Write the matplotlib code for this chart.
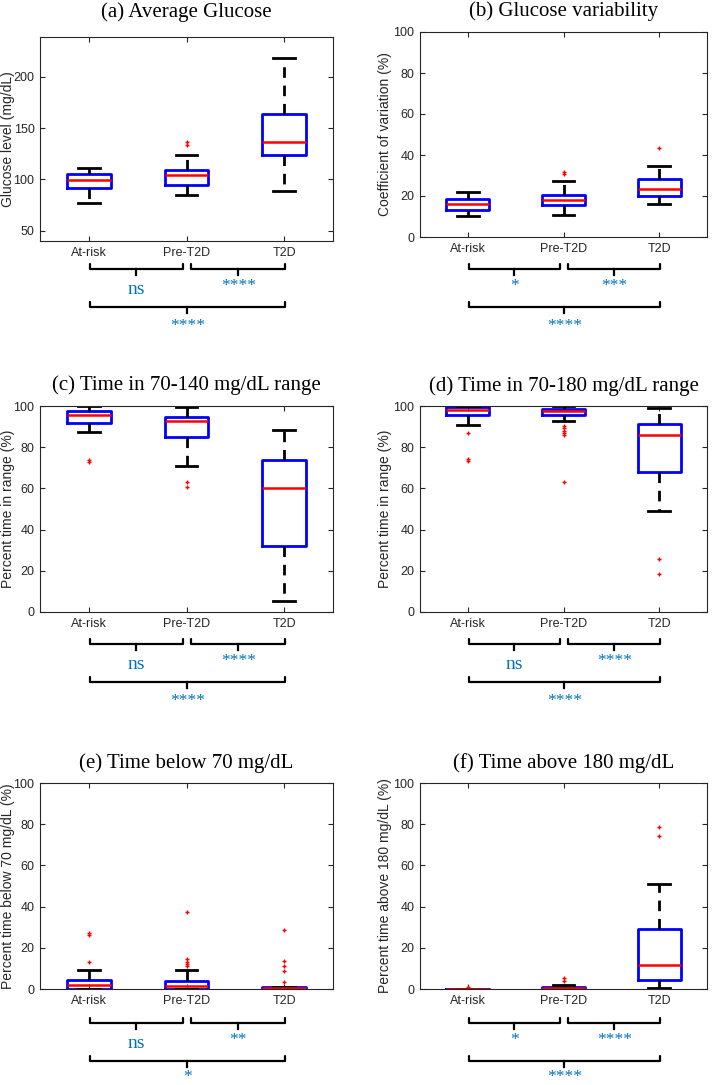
import matplotlib
matplotlib.use('Agg')
import matplotlib.pyplot as plt
import matplotlib.transforms as mtransforms

plt.rcParams['font.family'] = ['Liberation Sans', 'DejaVu Sans']

groups = ['At-risk', 'Pre-T2D', 'T2D']

# five number summaries per group: whisker low, q1, median, q3, whisker high
avg_glucose = [[77.2, 91.8, 99.6, 105.7, 111.2],
               [84.7, 95.0, 104.8, 109.3, 123.9],
               [88.6, 123.5, 136.5, 163.4, 218.2]]
avg_glucose_out = [[], [133.3, 136.5], []]

glucose_cv = [[10.1, 13.2, 16.3, 18.5, 22.0],
              [10.6, 15.8, 17.9, 20.5, 27.5],
              [16.3, 20.2, 23.4, 28.1, 34.6]]
glucose_cv_out = [[], [30.9, 31.8], [43.6]]

tir_140 = [[87.2, 91.9, 95.6, 97.4, 100.0],
           [70.9, 84.8, 92.6, 94.5, 99.4],
           [5.3, 32.2, 60.0, 73.6, 88.5]]
tir_140_out = [[73.0, 73.9], [60.5, 63.3], []]

tir_180 = [[91.0, 95.5, 98.1, 99.7, 100.0],
           [92.6, 95.6, 97.6, 98.7, 100.0],
           [49.0, 68.0, 85.7, 91.5, 99.0]]
tir_180_out = [[73.1, 74.1, 87.0],
               [63.3, 85.8, 86.9, 88.0, 89.2, 90.3],
               [18.3, 25.9]]

tbr_70 = [[0.0, 0.0, 2.1, 4.4, 9.0],
          [0.0, 0.0, 1.6, 4.1, 9.3],
          [0.0, 0.0, 0.4, 1.1, 1.1]]
tbr_70_out = [[13.1, 26.4, 27.4],
              [11.0, 12.1, 13.3, 14.4, 37.2],
              [3.3, 8.7, 11.0, 13.4, 28.7]]

tar_180 = [[0.0, 0.0, 0.0, 0.0, 0.0],
           [0.0, 0.0, 0.3, 0.8, 1.8],
           [0.5, 4.4, 11.8, 29.0, 51.1]]
tar_180_out = [[1.0], [3.7, 5.2], [74.1, 78.8]]

# significance: (1 vs 2, 2 vs 3, 1 vs 3)
sig_a = ['ns', '****', '****']
sig_b = ['*', '***', '****']
sig_c = ['ns', '****', '****']
sig_d = ['ns', '****', '****']
sig_e = ['ns', '**', '*']
sig_f = ['*', '****', '****']

W, H = 714, 1085
BLUE_TXT = '#0072BD'
GREY = '#262626'

fig = plt.figure(figsize=(W / 100, H / 100), dpi=100)


def make_axes(left, top, right, bottom):
    return fig.add_axes([left / W, 1 - bottom / H, (right - left) / W, (bottom - top) / H])


def draw_box(ax, summary, outliers):
    stats = []
    for s, o, name in zip(summary, outliers, groups):
        stats.append(dict(whislo=s[0], q1=s[1], med=s[2], q3=s[3], whishi=s[4],
                          fliers=o, label=name))
    ax.bxp(stats, positions=[1, 2, 3], widths=0.45, showfliers=True,
           boxprops=dict(color='#0000FF', linewidth=2.0),
           medianprops=dict(color='#FF0000', linewidth=1.8),
           whiskerprops=dict(color='black', linewidth=2.0, linestyle=(0, (3.8, 2.8))),
           capprops=dict(color='black', linewidth=2.0),
           flierprops=dict(marker='+', markersize=2.2, markeredgewidth=1.0,
                           markeredgecolor='#FF0000', linestyle='none'))
    ax.set_xlim(0.5, 3.5)
    ax.set_xticks([1, 2, 3])
    ax.set_xticklabels(groups)
    ax.tick_params(direction='in', length=3.5, width=0.8, colors=GREY,
                   labelsize=9, top=True, right=True, pad=4)
    for sp in ax.spines.values():
        sp.set_color(GREY)
        sp.set_linewidth(0.8)


def bracket(ax, x0, x1, y_tip, y_line, y_tick):
    tr = mtransforms.blended_transform_factory(ax.transData, fig.transFigure)
    yt, yl, yk = 1 - y_tip / H, 1 - y_line / H, 1 - y_tick / H
    ax.plot([x0, x0, x1, x1], [yt, yl, yl, yt], color='black', lw=1.6,
            transform=tr, clip_on=False, solid_joinstyle='round',
            solid_capstyle='round')
    xm = (x0 + x1) / 2
    ax.plot([xm, xm], [yl, yk], color='black', lw=1.6, transform=tr, clip_on=False)


def sig_text(ax, x, y_center, label):
    tr = mtransforms.blended_transform_factory(ax.transData, fig.transFigure)
    size = 14 if label == 'ns' else 12.5
    ax.text(x, 1 - (y_center + 5) / H, label, transform=tr, ha='center',
            va='baseline', fontsize=size, color=BLUE_TXT, family='Liberation Serif')


def brackets(ax, labels, row_top, long_text_y):
    # row_top: pixel y of the tips of the short brackets
    y0 = row_top
    bracket(ax, 1.01, 1.96, y0, y0 + 5, y0 + 11)
    bracket(ax, 2.05, 3.01, y0, y0 + 5, y0 + 11)
    bracket(ax, 1.01, 3.01, y0 + 38, y0 + 43, y0 + 49)
    sig_text(ax, 1.485, y0 + 25 if labels[0] == 'ns' else y0 + 21, labels[0])
    sig_text(ax, 2.53, y0 + 25 if labels[1] == 'ns' else y0 + 21, labels[1])
    sig_text(ax, 2.01, long_text_y, labels[2])


panels = [
    ('(a) Average Glucose', 'Glucose level (mg/dL)', avg_glucose, avg_glucose_out,
     sig_a, (40, 37, 333, 241), 264, 325, 17),
    ('(b) Glucose variability', 'Coefficient of variation (%)', glucose_cv, glucose_cv_out,
     sig_b, (420, 32, 707, 237), 264, 325, 16),
    ('(c) Time in 70-140 mg/dL range', 'Percent time in range (%)', tir_140, tir_140_out,
     sig_c, (40, 406, 333, 612), 639, 700, 390),
    ('(d) Time in 70-180 mg/dL range', 'Percent time in range (%)', tir_180, tir_180_out,
     sig_d, (420, 406, 707, 612), 639, 700, 391),
    ('(e) Time below 70 mg/dL', 'Percent time below 70 mg/dL (%)', tbr_70, tbr_70_out,
     sig_e, (40, 783, 333, 989), 1018, 1076, 768),
    ('(f) Time above 180 mg/dL', 'Percent time above 180 mg/dL (%)', tar_180, tar_180_out,
     sig_f, (420, 783, 707, 989), 1018, 1076, 768),
]

for i, (title, ylab, summ, outl, sig, box, row_top, long_y, title_base) in enumerate(panels):
    ax = make_axes(*box)
    draw_box(ax, summ, outl)
    if i == 0:
        ax.set_ylim(40, 239)
        ax.set_yticks([50, 100, 150, 200])
    else:
        ax.set_ylim(0, 100)
        ax.set_yticks([0, 20, 40, 60, 80, 100])
    ax.set_ylabel(ylab, fontsize=10, color=GREY)
    lab_x = 8 if box[0] < 100 else 385
    ax.yaxis.set_label_coords((lab_x - box[0]) / (box[2] - box[0]), 0.5)
    ax.yaxis.label.set_va('center')
    ax.set_title(title, fontsize=15, family='Liberation Serif', color='black',
                 pad=(box[1] - title_base) * 0.72)
    brackets(ax, sig, row_top, long_y)

fig.savefig('out.png', dpi=100)
